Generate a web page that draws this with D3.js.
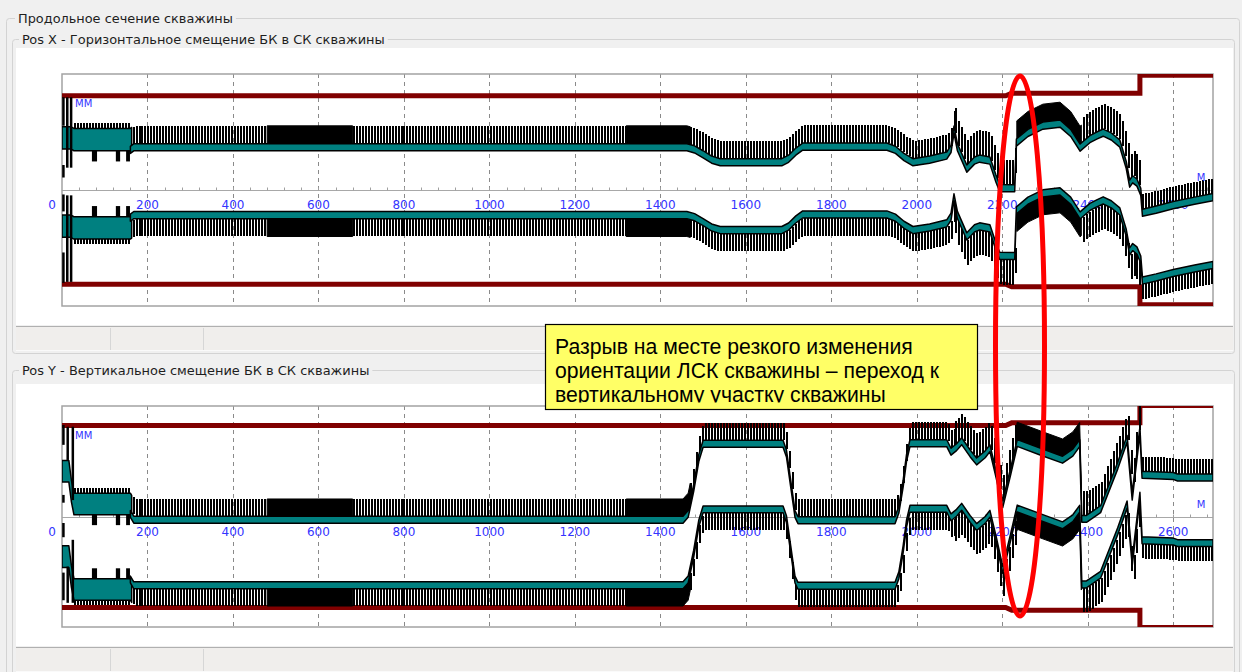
<!DOCTYPE html>
<html><head><meta charset="utf-8">
<script src="https://cdn.jsdelivr.net/npm/d3@7"></script>
<style>
html,body{margin:0;padding:0;background:#f0f0f0;overflow:hidden}
svg{display:block}
</style></head><body>
<svg id="c" width="1242" height="672"></svg>
<script>
// ---------------- data ----------------
const depthTicks = [0,200,400,600,800,1000,1200,1400,1600,1800,2000,2200,2400,2600];
const depthMax = 2693;

// Pos X : centre of the tool body (mm) along depth (m)
const xDepth  = [0,20,28,160,168,1462,1480,1500,1520,1540,1684,1700,1717,1733,1930,1950,1970,1991,2030,2070,2080,2087,2095,2117,2135,2147,2171,2185,2194,2229,2233,2260,2295,2335,2360,2382,2405,2421,2436,2455,2475,2490,2498,2505,2515,2524,2528,2560,2600,2650,2693];
const xCenter = [9,9,7,7,9.9,9.9,7.5,2,-4,-6.9,-6.9,-3,5,10.6,10.6,7,-1,-6.9,-4,0.6,8,29.7,10,-14,-5,-2.8,-5,-25,-35.9,-36,15.1,26,34.2,36.4,26,9.5,19,23,26.3,22,14,-10,-30.8,-26,-29.7,-40,-63.5,-60,-55,-50,-46];

// Pos Y : centre of the tool body (mm) along depth (m)
const yDepth  = [0,16,22,28,160,168,1453,1465,1478,1490,1500,1687,1695,1705,1715,1722,1949,1958,1968,1976,1984,2070,2080,2093,2105,2125,2140,2160,2171,2186,2201,2220,2235,2290,2341,2365,2381,2386,2397,2430,2470,2492,2504,2522,2527,2600,2610,2693];
const yCenter = [3,3,-20,-35,-35,-41.7,-41.7,-35,-5,30,46.3,46.3,35,0,-35,-42.3,-42.3,-30,0,30,46.9,46.9,37.1,42.3,49.2,35,25.8,34,41.1,10,-23.8,15,47.2,37,27.8,36,46.9,-40.7,-40.7,-29.5,20.9,51.9,-15,62,10.4,9,7.2,7.2];

// borehole wall radius (mm) by depth interval
const wallStart  = [0,2222,2522];
const wallEnd    = [2208,2522,2693];
const wallRadius = [105.5,108.5,128.5];

// tool body outer / inner radius (mm) by depth interval
const bodyStart = [0,160];
const bodyEnd   = [163,2693];
const bodyOuter = [62,42];
const bodyInner = [37,34];

// hatching (blades / joints) : interval, step (m, 0 = solid), length (mm)
const hatchStart = [28,165,480,680,1320,1470,2090,2234,2388,2528];
const hatchEnd   = [160,480,680,1320,1470,2090,2232,2385,2522,2693];
const hatchStep  = [7,7,0,7,0,7,7,0,7,7];
const hatchLen   = [6,20,20,20,20,20,28,20,28,17];

// joints inside the BHA : interval (m), depth (mm)
const jointStart = [70,126,150];
const jointEnd   = [82,136,159];
const jointSize  = 12;

// bars near the bit
const xBitDepth = [1,1,1,1,10,10,19,19];
const xBitTop   = [104,28,-5,-70,104,-6,104,-6];
const xBitBot   = [72,14,-24,-104,25,-103,25,-103];
const yBitDepth = [1,1,1,1,11,11,23,23];
const yBitTop   = [106,25,-7.5,-65,104,-58,104,-27];
const yBitBot   = [83,16,-24,-97,65.5,-100,19,-100];

// texts
const titleMain = 'Продольное сечение скважины';
const titleX = 'Pos X - Горизонтальное смещение БК в СК скважины';
const titleY = 'Pos Y - Вертикальное смещение БК в СК скважины';
const noteLines = ['Разрыв на месте резкого изменения','ориентации ЛСК скважины – переход к','вертикальному участку скважины'];
const unitY = 'ММ', unitX = 'М';

// ---------------- drawing ----------------
const svg = d3.select('#c');
const FONT = 'DejaVu Sans, Verdana, sans-serif';
const BLUE = '#3434ff';
const x = d3.scaleLinear().domain([0, depthMax]).range([62, 1213]);

function fit(t, target){
  const w = t.node().getComputedTextLength();
  const fs = parseFloat(t.attr('font-size'));
  t.attr('font-size', fs*target/w);
  return fs*target/w;
}
function label(txt, lx, ly, size){
  const g = svg.append('g');
  const bg = g.append('rect').attr('fill','#f0f0f0');
  const t = g.append('text').attr('x',lx).attr('y',ly).attr('font-family',FONT)
    .attr('font-size',size).attr('fill','#1e1e1e').text(txt);
  return {t, bg};
}
// group boxes
svg.append('rect').attr('x',6.5).attr('y',18.5).attr('width',1233).attr('height',700).attr('rx',3)
  .attr('fill','none').attr('stroke','#d3d3d3');
const panelsCfg = [
  {title:titleX, gTop:39.5, gH:314, wTop:48, wBot:325, sTop:327,
   top:74, bottom:306, dom:130, depth:xDepth, center:xCenter, bd:xBitDepth, bt:xBitTop, bb:xBitBot},
  {title:titleY, gTop:370.5, gH:330, wTop:384, wBot:646, sTop:648,
   top:406, bottom:627, dom:128, depth:yDepth, center:yCenter, bd:yBitDepth, bt:yBitTop, bb:yBitBot}
];
panelsCfg.forEach(p=>{
  svg.append('rect').attr('x',12.5).attr('y',p.gTop).attr('width',1222).attr('height',p.gH).attr('rx',3)
    .attr('fill','none').attr('stroke','#d3d3d3');
  svg.append('rect').attr('x',16).attr('y',p.wTop).attr('width',1217).attr('height',p.wBot-p.wTop).attr('fill','#fff');
  svg.append('rect').attr('x',16).attr('y',p.sTop).attr('width',1217).attr('height',24).attr('fill','#f0eeec');
  svg.append('line').attr('x1',16).attr('x2',1233).attr('y1',p.sTop-0.5).attr('y2',p.sTop-0.5).attr('stroke','#b0b0b0');
  [110,203].forEach(dx=>svg.append('line').attr('x1',dx+0.5).attr('x2',dx+0.5).attr('y1',p.sTop+1).attr('y2',p.sTop+23).attr('stroke','#d6d6d6'));
  svg.append('line').attr('x1',16).attr('x2',1233).attr('y1',p.sTop+23.5).attr('y2',p.sTop+23.5).attr('stroke','#fafafa');
});
// titles
const lm = label(titleMain, 18, 23, 13);
fit(lm.t, 215);
const lx = label(titleX, 22, 43.5, 13);
const fsSub = fit(lx.t, 363);
const ly = label(titleY, 22, 375, fsSub);
[lm,lx,ly].forEach(l=>{const b=l.t.node().getBBox(); l.bg.attr('x',b.x-3).attr('y',b.y).attr('width',b.width+6).attr('height',b.height);});

// panels
panelsCfg.forEach((p,pi)=>{
  const y = d3.scaleLinear().domain([-p.dom, p.dom]).range([p.bottom, p.top]);
  const cAt = d3.scaleLinear().domain(p.depth).range(p.center).clamp(true);
  const g = svg.append('g');
  const clipId = 'clip'+pi;
  svg.append('clipPath').attr('id',clipId).append('rect')
    .attr('x',62).attr('y',p.top).attr('width',1151).attr('height',p.bottom-p.top);

  g.append('rect').attr('x',62).attr('y',p.top).attr('width',1151).attr('height',p.bottom-p.top)
    .attr('fill','#fff');
  // dashed grid
  g.selectAll('line.grid').data(depthTicks.filter(d=>d>0)).join('line')
    .attr('x1',d=>Math.round(x(d))+0.5).attr('x2',d=>Math.round(x(d))+0.5)
    .attr('y1',p.top).attr('y2',p.bottom).attr('stroke','#8a8a8a').attr('stroke-dasharray','4,4');
  // axis at 0 mm
  const y0 = Math.round(y(0))+0.5;
  g.append('line').attr('x1',62).attr('x2',1213).attr('y1',y0).attr('y2',y0).attr('stroke','#a8a8a8');
  const minor = d3.range(40, depthMax, 40);
  g.selectAll('line.minor').data(minor).join('line')
    .attr('x1',d=>Math.round(x(d))+0.5).attr('x2',d=>Math.round(x(d))+0.5)
    .attr('y1',y0-3).attr('y2',y0).attr('stroke','#a0a0a0');
  // tick labels
  g.selectAll('text.tick').data(depthTicks).join('text')
    .attr('x',d=>d===0? x(0)-10 : x(d)).attr('y',y0+18.5).attr('text-anchor','middle')
    .attr('font-family',FONT).attr('font-size',12).attr('fill',BLUE).text(d=>d);
  // frame
  g.append('rect').attr('x',62).attr('y',p.top).attr('width',1151).attr('height',p.bottom-p.top)
    .attr('fill','none').attr('stroke','#a3a3a3').attr('stroke-width',1.5);

  const cg = g.append('g').attr('clip-path',`url(#${clipId})`);
  // walls
  [1,-1].forEach(s=>{
    const pts=[];
    wallStart.forEach((a,i)=>{pts.push([a, s*wallRadius[i]]); pts.push([wallEnd[i], s*wallRadius[i]]);});
    cg.append('path').attr('d', d3.line().x(d=>x(d[0])).y(d=>y(d[1]))(pts))
      .attr('fill','none').attr('stroke','#800000').attr('stroke-width',5);
  });
  const knots = (a,b)=>[a, ...p.depth.filter(d=>d>a && d<b), b];
  const bodyIdx = d=>{let j=0; bodyStart.forEach((a,i)=>{ if(d>=a) j=i;}); return j;};
  const outerAt = d=>bodyOuter[bodyIdx(d)];
  // hatching
  [1,-1].forEach(s=>{
    hatchStart.forEach((a,i)=>{
      const b = hatchEnd[i], L = hatchLen[i];
      if(hatchStep[i]>0){
        cg.append('g').selectAll('line').data(d3.range(a,b,hatchStep[i])).join('line')
          .attr('x1',d=>Math.round(x(d))+1).attr('x2',d=>Math.round(x(d))+1)
          .attr('y1',d=>y(cAt(d)+s*outerAt(d))).attr('y2',d=>y(cAt(d)+s*(outerAt(d)+L)))
          .attr('stroke','#000').attr('stroke-width',2).attr('shape-rendering','crispEdges');
      } else {
        cg.append('path').datum(knots(a,b))
          .attr('d', d3.area().x(d=>x(d)).y0(d=>y(cAt(d)+s*outerAt(d))).y1(d=>y(cAt(d)+s*(outerAt(d)+L))))
          .attr('fill','#000').attr('stroke','#000').attr('stroke-width',1);
      }
    });
  });
  // body (pipe wall)
  [1,-1].forEach(s=>{
    bodyStart.forEach((a,j)=>{
      cg.append('path').datum(knots(a, bodyEnd[j]))
        .attr('d', d3.area().x(d=>x(d)).y0(d=>y(cAt(d)+s*bodyInner[j])).y1(d=>y(cAt(d)+s*bodyOuter[j])))
        .attr('fill','#008080').attr('stroke','#000').attr('stroke-width',1.5).attr('stroke-linejoin','round');
    });
    // joints
    jointStart.forEach((a,k)=>{
      const j = bodyIdx(a);
      cg.append('path').datum(knots(a, jointEnd[k]))
        .attr('d', d3.area().x(d=>x(d)).y0(d=>y(cAt(d)+s*bodyInner[j])).y1(d=>y(cAt(d)+s*(bodyInner[j]-jointSize))))
        .attr('fill','#000');
    });
  });
  // bit bars
  cg.selectAll('line.bit').data(p.bd.map((d,i)=>[d,p.bt[i],p.bb[i]])).join('line')
    .attr('x1',d=>x(d[0])+1).attr('x2',d=>x(d[0])+1).attr('y1',d=>y(d[1])).attr('y2',d=>y(d[2]))
    .attr('stroke','#000').attr('stroke-width',2.5);
  // units
  g.append('text').attr('x',75).attr('y',p.top+33)
    .attr('font-family',FONT).attr('font-size',10).attr('fill',BLUE).text(unitY);
  g.append('text').attr('x',1201).attr('y',y0-10).attr('text-anchor','middle')
    .attr('font-family',FONT).attr('font-size',10).attr('fill',BLUE).text(unitX);
});

// annotation box
const nb = svg.append('g');
nb.append('clipPath').attr('id','noteclip').append('rect').attr('x',545).attr('y',324).attr('width',433).attr('height',78.5);
nb.append('rect').attr('x',545.5).attr('y',324.5).attr('width',432).attr('height',85)
  .attr('fill','#ffff66').attr('stroke','#000').attr('stroke-width',1.2);
const nt = nb.append('g').attr('clip-path','url(#noteclip)');
const first = nt.append('text').attr('x',555).attr('y',353.5).attr('font-family','Liberation Sans, Arial, sans-serif')
  .attr('font-size',18).attr('fill','#000').text(noteLines[0]);
const fsNote = fit(first, 358);
noteLines.slice(1).forEach((l,i)=>nt.append('text').attr('x',555).attr('y',377.8+i*24.3)
  .attr('font-family','Liberation Sans, Arial, sans-serif').attr('font-size',fsNote).attr('fill','#000').text(l));

// red ellipse
svg.append('ellipse').attr('cx',1020).attr('cy',346).attr('rx',24.5).attr('ry',270)
  .attr('fill','none').attr('stroke','#ff0000').attr('stroke-width',5);
</script>
</body></html>
